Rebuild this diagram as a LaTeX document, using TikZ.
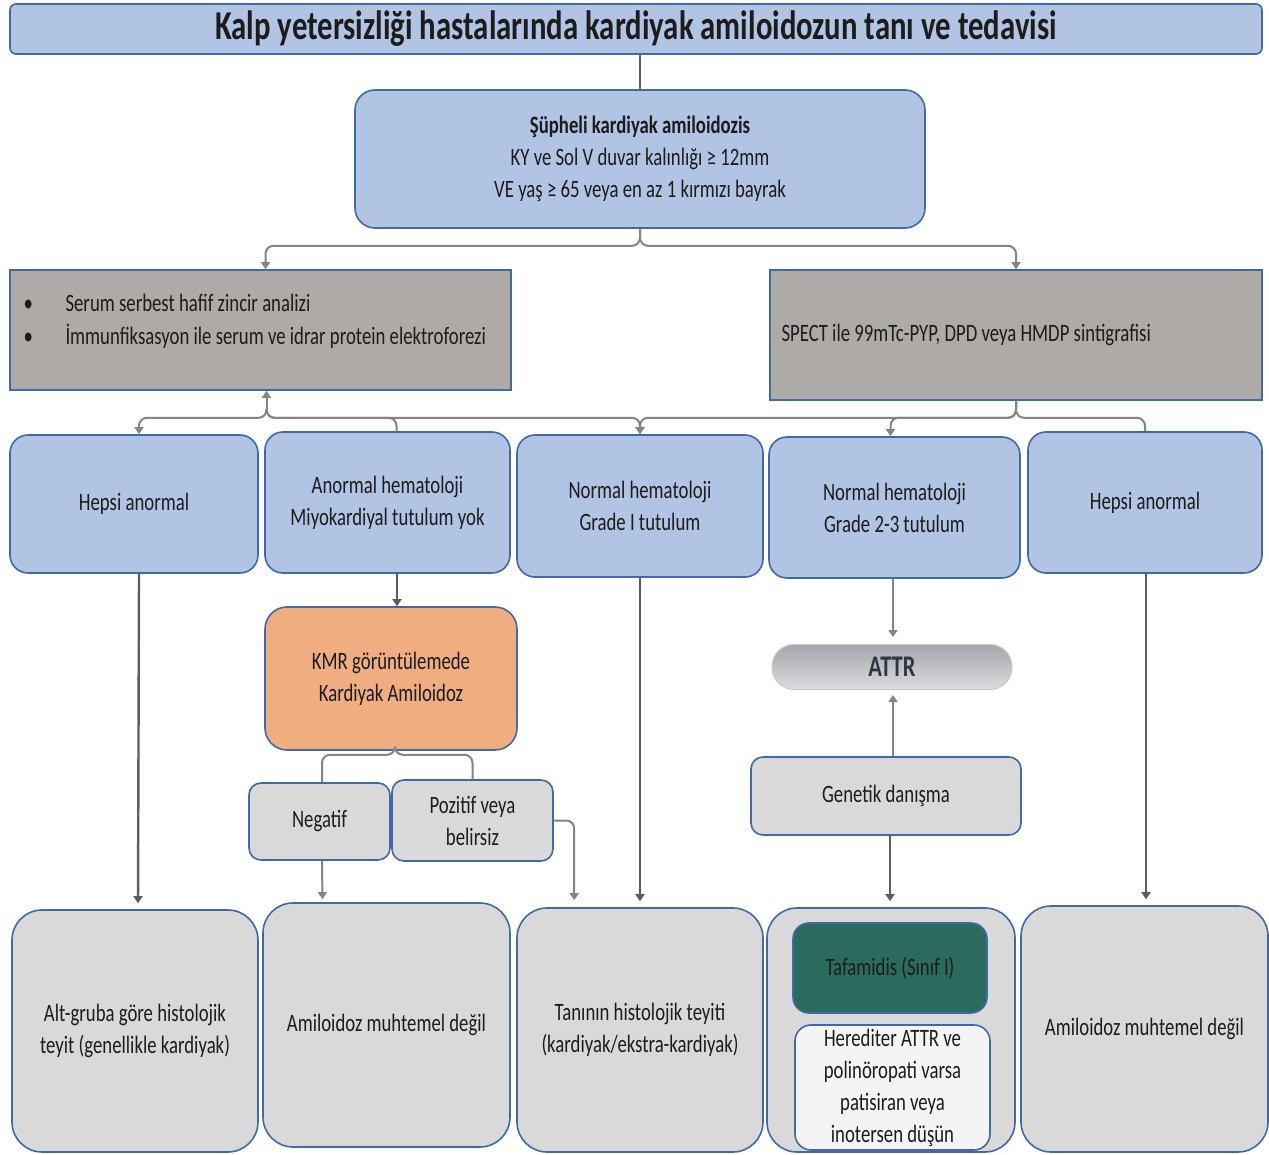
\documentclass[tikz,border=0pt]{standalone}
\usepackage{fontspec}
\setmainfont{Carlito}[FakeStretch=0.75]
\usetikzlibrary{arrows.meta,calc}

\definecolor{boxblue}{HTML}{B1C4E3}
\definecolor{edgeblue}{HTML}{4169A8}
\definecolor{boxgrey}{HTML}{AEAAA7}
\definecolor{lightgrey}{HTML}{D9D9D9}
\definecolor{kmrorange}{HTML}{F0AD80}
\definecolor{tafgreen}{HTML}{2A6B5D}
\definecolor{palebox}{HTML}{F4F4F4}
\definecolor{linegrey}{HTML}{858585}
\definecolor{darkline}{HTML}{5E5E5E}
\definecolor{inkc}{HTML}{1C1C1C}
\definecolor{attrtop}{HTML}{A3A6AA}
\definecolor{attrbot}{HTML}{DCDDDF}
\definecolor{attrink}{HTML}{2E3745}

\tikzset{
  basebox/.style={draw=edgeblue, line width=1.6pt, align=center, text=inkc,
    font=\fontsize{25}{32}\selectfont, inner sep=3pt},
  bluebox/.style={basebox, fill=boxblue, rounded corners=18pt},
  greybox/.style={basebox, fill=boxgrey},
  lightbox/.style={basebox, fill=lightgrey, rounded corners=12pt},
  endbox/.style={basebox, fill=lightgrey, rounded corners=30pt},
  boxtext/.style={font=\fontsize{25}{33}\selectfont, text=inkc, align=left, anchor=west},
  conn/.style={draw=linegrey, line width=2pt},
  arr/.style={conn, -{Triangle[width=9pt,length=7pt]}},
  darr/.style={draw=darkline, line width=2.4pt, -{Triangle[width=9pt,length=7pt]}},
  rc/.style={rounded corners=8pt},
}

\begin{document}
\begin{tikzpicture}[x=1pt,y=-1pt]
\useasboundingbox (0,0) rectangle (1269,1155);
\fill[white] (0,0) rectangle (1269,1155);

% title
\node[basebox, fill=boxblue, rounded corners=6pt, minimum width=1252pt, minimum height=50pt, inner sep=0pt,
  font=\fontsize{41}{42}\selectfont\bfseries] (title) at (636,29)
  {Kalp yetersizliği hastalarında kardiyak amiloidozun tanı ve tedavisi};

% suspected amyloidosis
\node[bluebox, rounded corners=20pt, minimum width=570pt, minimum height=138pt] (top) at (640,159)
  {\textbf{Şüpheli kardiyak amiloidozis}\\KY ve Sol V duvar kalınlığı ≥ 12mm\\VE yaş ≥ 65 veya en az 1 kırmızı bayrak};

% first tests
\node[greybox, minimum width=501pt, minimum height=120pt] (gL) at (260.5,330) {};
\node[boxtext] (gLtext) at (20,321)
  {\makebox[42pt][l]{•}Serum serbest hafif zincir analizi\\
   \makebox[42pt][l]{•}İmmunfiksasyon ile serum ve idrar protein elektroforezi};
\node[greybox, minimum width=492pt, minimum height=130pt] (gR) at (1016,335) {};
\node[boxtext] (gRtext) at (778,335) {SPECT ile 99mTc-PYP, DPD veya HMDP sintigrafisi};

% result row
\node[bluebox, minimum width=248pt, minimum height=138pt] (b1) at (134,504) {Hepsi anormal};
\node[bluebox, minimum width=245pt, minimum height=141pt] (b2) at (387.5,502.5) {Anormal hematoloji\\Miyokardiyal tutulum yok};
\node[bluebox, minimum width=246pt, minimum height=142pt] (b3) at (640,506) {Normal hematoloji\\Grade I tutulum};
\node[bluebox, minimum width=251pt, minimum height=141pt] (b4) at (894.5,507.5) {Normal hematoloji\\Grade 2-3 tutulum};
\node[bluebox, minimum width=234pt, minimum height=141pt] (b5) at (1145,502.5) {Hepsi anormal};

% middle stage
\node[basebox, fill=kmrorange, rounded corners=22pt, minimum width=252pt, minimum height=143pt] (kmr) at (391,678.5)
  {KMR görüntülemede\\Kardiyak Amiloidoz};
\node[lightbox, minimum width=141pt, minimum height=77pt] (neg) at (319.5,821.5) {Negatif};
\node[lightbox, minimum width=161pt, minimum height=81pt] (poz) at (472.5,820.5) {Pozitif veya\\belirsiz};
\node[draw=attrbot!80!gray, line width=1pt, top color=attrtop, bottom color=attrbot, rounded corners=22pt,
  minimum width=240pt, minimum height=45pt, inner sep=0pt, text=attrink,
  font=\fontsize{30}{30}\selectfont\bfseries] (attr) at (892,667) {ATTR};
\node[lightbox, minimum width=270pt, minimum height=78pt] (gen) at (886,796) {Genetik danışma};

% outcome row
\node[endbox, minimum width=246pt, minimum height=242pt] (d1) at (135,1031) {Alt-gruba göre histolojik\\teyit (genellikle kardiyak)};
\node[endbox, minimum width=247pt, minimum height=244pt] (d2) at (386.5,1025) {Amiloidoz muhtemel değil};
\node[endbox, minimum width=246pt, minimum height=244pt] (d3) at (640,1030) {Tanının histolojik teyiti\\(kardiyak/ekstra-kardiyak)};
\node[endbox, minimum width=248pt, minimum height=244pt] (d4) at (891,1030) {};
\node[basebox, fill=tafgreen, rounded corners=16pt, minimum width=194pt, minimum height=90pt] (taf) at (890,968) {Tafamidis (Sınıf I)};
\node[basebox, fill=palebox, rounded corners=16pt, minimum width=195pt, minimum height=125pt, inner sep=1pt] (her) at (892.5,1087.5)
  {Herediter ATTR ve\\polinöropati varsa\\patisiran veya\\inotersen düşün};
\node[endbox, minimum width=247pt, minimum height=246pt] (d5) at (1144.5,1029) {Amiloidoz muhtemel değil};

% connectors: title to first box, split to the two tests
\draw[darr, -] (top.north |- title.south) -- (top.north);
\draw[arr, rc] (top.south) -- ++(0,17) -| ($(gL.north)+(5,0)$);
\draw[arr, rc] (top.south) -- ++(0,17) -| (gR.north);

% bus under the haematology tests
\coordinate (gLfoot) at ($(gL.south)+(6,18)$);
\draw[arr] (gLfoot) -- ($(gL.south)+(6,0)$);
\draw[arr, rc] (gLfoot) -- ++(0,9) -| ($(b1.north)+(5,0)$);
\draw[conn, rc] (gLfoot) -- ++(0,9) -| ($(b2.north)+(9,0)$);
\draw[arr, rc] (gLfoot) -- ++(0,9) -| (b3.north);

% bus under the scintigraphy
\draw[arr, rc] (gR.south) -- ++(0,17) -| (b3.north);
\draw[arr, rc] (gR.south) -- ++(0,17) -| ($(b4.north)+(-4,0)$);
\draw[conn, rc] (gR.south) -- ++(0,17) -| (b5.north);

% vertical paths
\draw[darr, shorten >=6pt] ($(b1.south)+(5,0)$) -- ($(d1.north)+(3,0)$);
\draw[darr] ($(kmr.north)+(6,-34)$) -- ($(kmr.north)+(6,0)$);
\draw[conn, rc] ($(kmr.south)+(4,0)$) -- ++(0,4) -| (neg.north -| 322,0);
\draw[conn, rc] ($(kmr.south)+(4,0)$) -- ++(0,4) -| (poz.north);
\draw[arr, shorten >=3pt] ($(neg.south)+(2.5,0)$) -- ($(d2.north)+(-64,0)$);
\draw[arr, rc, shorten >=7pt] (poz.east) -| ($(d3.north west)+(58,0)$);
\draw[darr, shorten >=6pt] (b3.south) -- (d3.north);
\draw[arr, shorten >=7pt] ($(b4.south)+(-1.5,0)$) -- ($(attr.north)+(1,0)$);
\draw[arr, shorten >=5pt] ($(gen.north)+(7,0)$) -- ($(attr.south)+(1,0)$);
\draw[darr, shorten >=6pt] ($(gen.south)+(4,0)$) -- ($(d4.north)+(-1,0)$);
\draw[darr, shorten >=6pt] ($(b5.south)+(1,0)$) -- ($(d5.north)+(1.5,0)$);
\end{tikzpicture}
\end{document}
